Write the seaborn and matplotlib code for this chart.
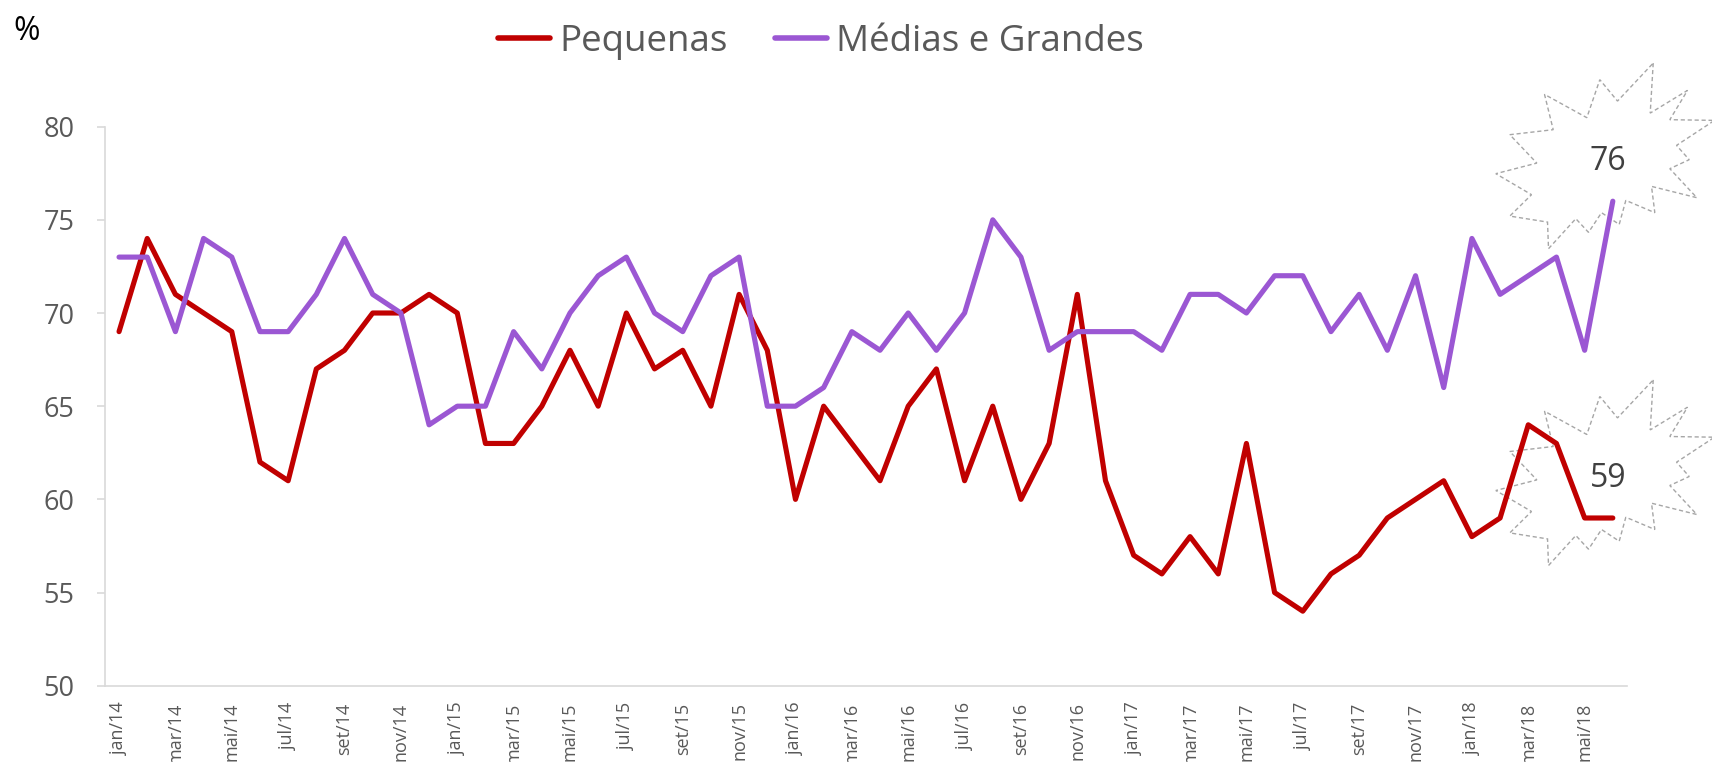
import matplotlib.pyplot as plt
import matplotlib.patches as mpatches
from matplotlib.lines import Line2D
from matplotlib.transforms import IdentityTransform
import seaborn as sns
import pandas as pd

meses = ['jan', 'fev', 'mar', 'abr', 'mai', 'jun', 'jul', 'ago', 'set', 'out', 'nov', 'dez']
periodos = [f'{m}/{a}' for a in range(14, 19) for m in meses][:54]

pequenas = [69, 74, 71, 70, 69, 62, 61, 67, 68, 70,
            70, 71, 70, 63, 63, 65, 68, 65, 70, 67,
            68, 65, 71, 68, 60, 65, 63, 61, 65, 67,
            61, 65, 60, 63, 71, 61, 57, 56, 58, 56,
            63, 55, 54, 56, 57, 59, 60, 61, 58, 59,
            64, 63, 59, 59]
medias_grandes = [73, 73, 69, 74, 73, 69, 69, 71, 74, 71,
                  70, 64, 65, 65, 69, 67, 70, 72, 73, 70,
                  69, 72, 73, 65, 65, 66, 69, 68, 70, 68,
                  70, 75, 73, 68, 69, 69, 69, 68, 71, 71,
                  70, 72, 72, 69, 71, 68, 72, 66, 74, 71,
                  72, 73, 68, 76]

series = ['Pequenas', 'Médias e Grandes']
cores = {'Pequenas': '#C00000', 'Médias e Grandes': '#9B57D3'}

df = pd.DataFrame({
    'pos': list(range(len(periodos))) * 2,
    'valor': pequenas + medias_grandes,
    'serie': [series[0]] * len(pequenas) + [series[1]] * len(medias_grandes),
})

sns.set_style('white')
plt.rcParams['font.family'] = ['Open Sans', 'DejaVu Sans']

fig = plt.figure(figsize=(17.12, 7.62), dpi=100)
ax = fig.add_axes([0.0613, 0.1001, 0.8890, 0.7337])

sns.lineplot(data=df, x='pos', y='valor', hue='serie', palette=cores,
             linewidth=3.7, legend=False, ax=ax, zorder=3)
for ln in ax.lines:
    ln.set_solid_capstyle('round')
    ln.set_solid_joinstyle('round')

ax.set_xlim(-0.5, len(periodos) - 0.5)
ax.set_ylim(50, 80)
ax.set_yticks(range(50, 81, 5))
ax.set_xticks(range(0, len(periodos), 2))
ax.set_xticklabels(periodos[::2], rotation=90)
ax.set_xlabel('')
ax.set_ylabel('')

for s in ['top', 'right']:
    ax.spines[s].set_visible(False)
for s in ['left', 'bottom']:
    ax.spines[s].set_color('#D9D9D9')
    ax.spines[s].set_linewidth(1.2)

ax.tick_params(axis='y', left=True, length=6, width=1.2, color='#D9D9D9',
               pad=16, labelsize=19.5, labelcolor='#595959')
ax.tick_params(axis='x', length=0, pad=12, labelsize=13, labelcolor='#595959')

# legenda no topo
handles = [Line2D([0], [0], color=cores[s], lw=4, solid_capstyle='round') for s in series]
fig.legend(handles, series, loc='center', bbox_to_anchor=(821 / 1712, 1 - 42 / 762),
           ncol=2, frameon=False, fontsize=26.5, handlelength=1.4, handletextpad=0.25,
           columnspacing=1.3, labelcolor='#595959')

fig.text(27 / 1712, 1 - 31 / 762, '%', fontsize=23, color='black', ha='center', va='center')

# "explosao" em volta do ultimo valor (offsets em pixels, y para baixo)
estrela = [(45.4, -98.6), (42.4, -48.6), (79.7, -71.3), (62, -42), (106.7, -41.3),
           (68.7, -16.3), (81.4, -2), (62, 7), (89, 36), (43.7, 24.7), (47, 51),
           (18, 38.7), (11.4, 62.7), (-6.3, 51), (-19.3, 70.7), (-32, 57),
           (-59.3, 87), (-60.3, 60.4), (-98, 54.4), (-76.3, 33), (-112, 12),
           (-71, 1.4), (-98, -27), (-54.6, -32), (-63.3, -67.3), (-21, -44),
           (-8, -82), (9.7, -60.6)]

fig.canvas.draw()
ultimo = len(periodos) - 1
for vals in [medias_grandes, pequenas]:
    v = vals[-1]
    px, py = ax.transData.transform((ultimo, v))
    cx, cy = px - 5, py + 39.5
    verts = [(cx + dx, cy - dy) for dx, dy in estrela]
    poly = mpatches.Polygon(verts, closed=True, facecolor='white', edgecolor='#A6A6A6',
                            linestyle=(0, (3, 2)), linewidth=1.0,
                            transform=IdentityTransform(), zorder=1, clip_on=False)
    ax.add_artist(poly)
    ax.annotate(f'{v}', xy=(ultimo, v), xytext=(-5, 39.5), textcoords='offset pixels',
                ha='center', va='center', fontsize=23, color='#404040', zorder=5,
                annotation_clip=False)

fig.savefig('out.png', dpi=100)
